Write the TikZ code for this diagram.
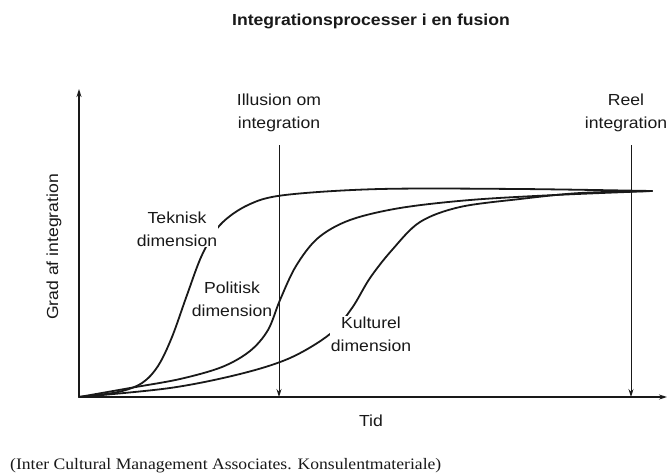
\documentclass[tikz,border=0pt]{standalone}
\usepackage{fontspec}
\usepackage{tikz}
\usetikzlibrary{arrows.meta}
\setmainfont{Liberation Sans}[FakeStretch=1.1]
\newfontfamily\kildefont{Liberation Serif}[FakeStretch=1.1]
\definecolor{grafsort}{RGB}{25,25,25}

\tikzset{
  akse/.style={draw=grafsort, line width=1.3pt, -{Stealth[length=8pt,width=5pt]}},
  kurve/.style={draw=grafsort, line width=1.8pt, line cap=round},
  markering/.style={draw=grafsort, line width=1pt, -{Stealth[length=8pt,width=5pt]}},
  etiket/.style={text=grafsort, font=\fontsize{16}{23}\selectfont, align=center, inner sep=1pt},
  dimetiket/.style={etiket, fill=white, inner sep=0.5pt}
}

\begin{document}
\begin{tikzpicture}[x=1pt,y=-1pt]
\useasboundingbox (0,0) rectangle (668,475);
\fill[white] (0,0) rectangle (668,475);

% Axes
\coordinate (origo) at (79,397);
\coordinate (ytop) at (79,89);
\coordinate (xslut) at (667,397);
\coordinate (mod) at (652,191);

% Dimension curves
\draw[kurve] plot[smooth, tension=0.55] coordinates {(origo) (118,392) (142,383) (158,366) (172,337) (187,295) (202,255) (220,225) (248,205) (285,195) (380,189) (520,189) (mod)};
\draw[kurve] plot[smooth, tension=0.55] coordinates {(origo) (130,388) (180,379) (222,367) (250,351) (268,330) (280,300) (296,266) (318,238) (350,220) (400,208) (470,200) (555,195) (mod)};
\draw[kurve] plot[smooth, tension=0.55] coordinates {(origo) (170,388) (240,374) (290,358) (330,334) (352,308) (370,278) (392,250) (420,222) (460,207) (520,199) (580,193) (mod)};

\node[dimetiket, anchor=north] (teknisk) at (177,211) {Teknisk\\dimension};
\node[etiket, anchor=north, inner sep=0.5pt] (politisk) at (232,281) {Politisk\\dimension};
\node[dimetiket, anchor=north] (kulturel) at (371,316) {Kulturel\\dimension};

% Illusion / reel integration
\node[etiket, anchor=north] (illusion) at (279,93) {Illusion om\\integration};
\node[etiket, anchor=north] (reel) at (626,93) {Reel\\integration};
\draw[markering] ([yshift=-12pt]illusion.south) -- (illusion.south |- origo);
\draw[markering] ([yshift=-12pt,xshift=5pt]reel.south) -- ([xshift=5pt]reel.south |- origo);

\draw[akse] (origo) -- (ytop);
\draw[akse] (origo) -- (xslut);

% Titles
\node[text=grafsort, font=\fontsize{16}{19}\selectfont\bfseries] (titel) at (371,21) {Integrationsprocesser i en fusion};
\node[etiket, anchor=north] (tid) at (371,414) {Tid};
\node[etiket, rotate=90] (grad) at (54,247) {Grad af integration};
\node[text=grafsort, font=\kildefont\fontsize{16}{19}\selectfont, anchor=base west, inner sep=0pt] (kilde) at (10,469) {(Inter Cultural Management Associates. Konsulentmateriale)};
\end{tikzpicture}
\end{document}
